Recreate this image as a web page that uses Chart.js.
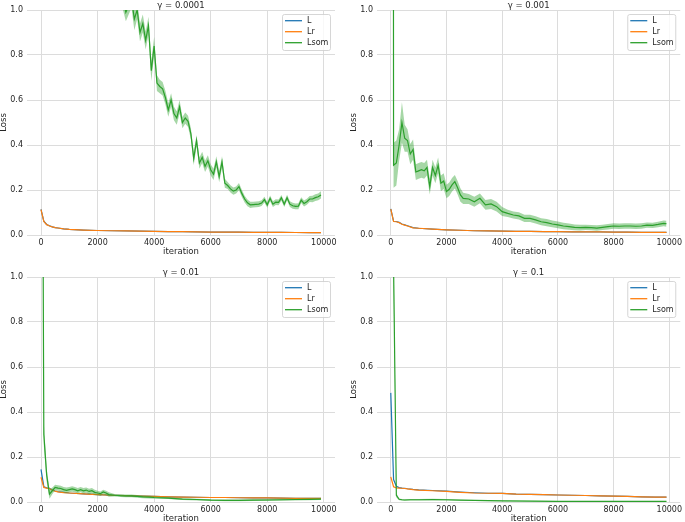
<!DOCTYPE html>
<html>
<head>
<meta charset="utf-8">
<script src="https://cdn.jsdelivr.net/npm/chart.js@4.4.0/dist/chart.umd.min.js"></script>
<style>
  html, body { margin: 0; padding: 0; background: #fff; overflow: hidden; }
  body { width: 685px; height: 522px; position: relative; }
  canvas { position: absolute; }
</style>
</head>
<body>
<canvas id="panel-a" width="342" height="260" style="left:0;top:0"></canvas>
<canvas id="panel-b" width="335" height="260" style="left:350px;top:0"></canvas>
<canvas id="panel-c" width="342" height="265" style="left:0;top:262px"></canvas>
<canvas id="panel-d" width="335" height="265" style="left:350px;top:262px"></canvas>
<script>
// Loss curves for four gamma values

const seriesNames = ['L', 'Lr', 'Lsom'];
const panelTitles = ['γ = 0.0001', 'γ = 0.001', 'γ = 0.01', 'γ = 0.1'];
const xTicks = [0, 2000, 4000, 6000, 8000, 10000];
const yTicks = [0, 0.2, 0.4, 0.6, 0.8, 1.0];

// iterations where L and Lr were sampled (shared by all panels)
const lossIters = [0, 100, 200, 300, 400, 500, 600, 800, 1000, 1500, 2000, 2500, 3000, 3500,
    4000, 4500, 5000, 5500, 6000, 6500, 7000, 7500, 8000, 8500, 9000, 9500, 9900];

// gamma = 0.0001
const lossA = [0.114, 0.061, 0.047, 0.041, 0.036, 0.033, 0.031, 0.027, 0.025, 0.022, 0.020, 0.019, 0.018, 0.017,
    0.016, 0.015, 0.015, 0.014, 0.013, 0.013, 0.013, 0.012, 0.012, 0.012, 0.011, 0.011, 0.011];
const lrA = [0.113, 0.060, 0.046, 0.040, 0.036, 0.033, 0.031, 0.027, 0.025, 0.022, 0.020, 0.019, 0.018, 0.017,
    0.016, 0.015, 0.015, 0.014, 0.013, 0.013, 0.013, 0.012, 0.012, 0.012, 0.011, 0.011, 0.011];
const lsomItersA = [0, 100, 200, 300, 400, 500, 700, 1000, 1500, 2000, 2500, 2800, 2900,
    3000, 3100, 3200, 3300, 3400, 3500, 3600, 3700, 3800, 3900,
    4000, 4100, 4200, 4300, 4400, 4500, 4600, 4700, 4800, 4900,
    5000, 5100, 5200, 5300, 5400, 5500, 5600, 5700, 5800, 5900,
    6000, 6100, 6200, 6300, 6400, 6500, 6600, 6700, 6800, 6900,
    7000, 7100, 7200, 7300, 7400, 7500, 7600, 7700, 7800, 7900,
    8000, 8100, 8200, 8300, 8400, 8500, 8600, 8700, 8800, 8900,
    9000, 9100, 9200, 9300, 9400, 9500, 9600, 9700, 9800, 9900];
const lsomA = [9.0, 7.5, 6.5, 5.8, 5.2, 4.8, 4.0, 3.2, 2.3, 1.7, 1.3, 1.12, 1.05,
    0.99, 1.02, 1.05, 0.96, 1.0, 0.90, 0.94, 0.865, 0.93, 0.73,
    0.84, 0.675, 0.66, 0.65, 0.61, 0.556, 0.60, 0.54, 0.52, 0.57,
    0.50, 0.52, 0.505, 0.45, 0.34, 0.42, 0.32, 0.345, 0.305, 0.33,
    0.29, 0.27, 0.325, 0.26, 0.325, 0.23, 0.22, 0.205, 0.195, 0.20,
    0.215, 0.185, 0.16, 0.143, 0.134, 0.135, 0.136, 0.137, 0.142, 0.157,
    0.134, 0.163, 0.137, 0.146, 0.145, 0.165, 0.137, 0.166, 0.137, 0.13,
    0.127, 0.128, 0.155, 0.14, 0.148, 0.16, 0.16, 0.166, 0.17, 0.178];
const lsomSpreadA = [0.05, 0.05, 0.05, 0.05, 0.05, 0.05, 0.05, 0.05, 0.05, 0.05, 0.05, 0.05, 0.05,
    0.04, 0.04, 0.04, 0.05, 0.04, 0.04, 0.04, 0.04, 0.04, 0.045,
    0.04, 0.035, 0.03, 0.03, 0.03, 0.03, 0.03, 0.03, 0.03, 0.03,
    0.025, 0.025, 0.025, 0.025, 0.03, 0.025, 0.025, 0.025, 0.025, 0.025,
    0.025, 0.025, 0.025, 0.025, 0.025, 0.02, 0.016, 0.016, 0.016, 0.016,
    0.016, 0.016, 0.015, 0.015, 0.014, 0.013, 0.013, 0.013, 0.013, 0.013,
    0.013, 0.013, 0.013, 0.013, 0.013, 0.013, 0.013, 0.013, 0.013, 0.013,
    0.013, 0.013, 0.013, 0.013, 0.013, 0.013, 0.014, 0.015, 0.015, 0.016];

// gamma = 0.001
const lossB = [0.116, 0.061, 0.060, 0.056, 0.049, 0.045, 0.041, 0.033, 0.030, 0.026, 0.023, 0.021, 0.019, 0.018,
    0.017, 0.016, 0.016, 0.015, 0.015, 0.014, 0.014, 0.014, 0.013, 0.013, 0.012, 0.012, 0.012];
const lrB = [0.115, 0.060, 0.059, 0.055, 0.048, 0.044, 0.040, 0.032, 0.030, 0.026, 0.023, 0.021, 0.019, 0.018,
    0.017, 0.016, 0.016, 0.015, 0.015, 0.014, 0.014, 0.014, 0.013, 0.013, 0.012, 0.012, 0.012];
const lsomItersB = [0, 100, 200, 300, 400, 500, 600, 700, 800, 900,
    1000, 1100, 1200, 1300, 1400, 1500, 1600, 1700, 1800, 1900,
    2000, 2100, 2200, 2300, 2400, 2500, 2600,
    2800, 3000, 3200, 3400, 3600, 3800, 4000, 4200, 4400, 4600, 4800,
    5000, 5200, 5400, 5600, 5800, 6000, 6200, 6400, 6600, 6800,
    7000, 7200, 7400, 7600, 7800, 8000, 8200, 8400, 8600, 8800,
    9000, 9200, 9400, 9600, 9800, 9900];
const lsomB = [20, 0.31, 0.32, 0.40, 0.50, 0.43, 0.42, 0.36, 0.38, 0.28,
    0.285, 0.29, 0.285, 0.30, 0.215, 0.30, 0.265, 0.31, 0.23, 0.24,
    0.193, 0.203, 0.223, 0.237, 0.21, 0.178, 0.163,
    0.16, 0.148, 0.163, 0.134, 0.138, 0.126, 0.104, 0.096, 0.089, 0.085, 0.074,
    0.074, 0.067, 0.059, 0.055, 0.049, 0.045, 0.040, 0.037, 0.034, 0.033,
    0.034, 0.033, 0.031, 0.034, 0.037, 0.040, 0.039, 0.040, 0.040, 0.039,
    0.040, 0.044, 0.043, 0.047, 0.052, 0.050];
const lsomSpreadB = [0.5, 0.1, 0.1, 0.07, 0.09, 0.06, 0.05, 0.045, 0.045, 0.035,
    0.035, 0.035, 0.035, 0.035, 0.035, 0.035, 0.035, 0.035, 0.035, 0.035,
    0.03, 0.03, 0.03, 0.03, 0.03, 0.03, 0.025,
    0.022, 0.022, 0.022, 0.022, 0.022, 0.022, 0.02, 0.016, 0.016, 0.016, 0.016,
    0.016, 0.016, 0.016, 0.016, 0.015, 0.015, 0.014, 0.014, 0.013, 0.013,
    0.012, 0.012, 0.012, 0.012, 0.012, 0.012, 0.012, 0.012, 0.012, 0.012,
    0.012, 0.012, 0.012, 0.012, 0.013, 0.013];

// gamma = 0.01
const lossC = [0.145, 0.068, 0.063, 0.061, 0.053, 0.049, 0.046, 0.043, 0.040, 0.036, 0.033, 0.030, 0.028, 0.026,
    0.025, 0.023, 0.022, 0.021, 0.020, 0.020, 0.019, 0.018, 0.018, 0.017, 0.016, 0.016, 0.016];
const lrC = [0.110, 0.065, 0.062, 0.060, 0.052, 0.048, 0.045, 0.042, 0.040, 0.036, 0.033, 0.030, 0.028, 0.026,
    0.025, 0.023, 0.022, 0.021, 0.020, 0.020, 0.019, 0.018, 0.018, 0.017, 0.016, 0.016, 0.016];
const lsomItersC = [0, 100, 200, 300, 400, 500, 600, 700, 800, 900,
    1000, 1100, 1200, 1300, 1400, 1500, 1600, 1700, 1800, 1900,
    2000, 2100, 2200, 2300, 2400,
    2600, 2800, 3000, 3200, 3400, 3600, 3800, 4000,
    4500, 5000, 5500, 6000, 6500, 7000, 7500, 8000, 8500, 9000, 9500, 9900];
const lsomC = [3.5, 0.30, 0.12, 0.035, 0.05, 0.065, 0.062, 0.06, 0.055, 0.052,
    0.055, 0.058, 0.055, 0.05, 0.055, 0.05, 0.053, 0.047, 0.05, 0.043,
    0.04, 0.037, 0.045, 0.04, 0.033,
    0.03, 0.028, 0.027, 0.027, 0.025, 0.023, 0.022, 0.02,
    0.017, 0.013, 0.011, 0.008, 0.007, 0.007, 0.008, 0.009, 0.01, 0.011, 0.012, 0.013];
const lsomSpreadC = [0.3, 0.05, 0.03, 0.02, 0.015, 0.012, 0.012, 0.012, 0.012, 0.012,
    0.012, 0.012, 0.012, 0.012, 0.012, 0.012, 0.012, 0.012, 0.012, 0.012,
    0.01, 0.01, 0.01, 0.01, 0.01,
    0.006, 0.006, 0.006, 0.006, 0.006, 0.006, 0.006, 0.006,
    0.004, 0.004, 0.004, 0.004, 0.004, 0.004, 0.004, 0.004, 0.004, 0.004, 0.004, 0.004];

// gamma = 0.1
const lossD = [0.485, 0.100, 0.070, 0.064, 0.062, 0.061, 0.059, 0.056, 0.054, 0.051, 0.048, 0.044, 0.041, 0.039,
    0.038, 0.035, 0.034, 0.033, 0.031, 0.030, 0.029, 0.027, 0.026, 0.025, 0.023, 0.022, 0.022];
const lrD = [0.112, 0.068, 0.063, 0.062, 0.061, 0.060, 0.058, 0.055, 0.053, 0.050, 0.047, 0.043, 0.040, 0.039,
    0.038, 0.035, 0.034, 0.033, 0.031, 0.030, 0.029, 0.027, 0.026, 0.025, 0.023, 0.022, 0.022];
const lsomItersD = [0, 100, 200, 300, 400, 500, 700, 1000, 1500, 2000, 2500, 3000,
    4000, 5000, 6000, 7000, 8000, 9000, 9900];
const lsomD = [3.7, 1.05, 0.03, 0.012, 0.01, 0.009, 0.01, 0.01, 0.011, 0.01, 0.008, 0.007,
    0.005, 0.004, 0.003, 0.003, 0.003, 0.003, 0.003];
const lsomSpreadD = [0.3, 0.1, 0.01, 0.004, 0.003, 0.003, 0.003, 0.003, 0.003, 0.003, 0.002, 0.002,
    0.002, 0.002, 0.002, 0.002, 0.002, 0.002, 0.002];

const COLORS = { L: '#1f77b4', Lr: '#ff7f0e', Lsom: '#2ca02c' };
const BAND = 'rgba(44, 160, 44, 0.42)';
const GRID = '#dcdcdc';
const TEXT = '#262626';
const FONT = '"DejaVu Sans", sans-serif';

function pairs(xs, ys) {
    return xs.map((x, i) => ({ x: x, y: ys[i] }));
}

function bandEdge(xs, ys, spread, sign) {
    return xs.map((x, i) => ({ x: x, y: ys[i] + sign * spread[i] }));
}

// draws the panel title and a matplotlib-like legend inside the plot area
const panelDecor = {
    id: 'panelDecor',
    afterDraw(chart) {
        const { ctx, chartArea: a } = chart;
        const opts = chart.options.plugins.panelDecor;
        ctx.save();

        ctx.fillStyle = TEXT;
        ctx.font = '8.5px ' + FONT;
        ctx.textAlign = 'center';
        ctx.textBaseline = 'alphabetic';
        ctx.fillText(opts.title, (a.left + a.right) / 2, a.top - 2.5);

        const w = 48, h = 36;
        const bx = a.right - 5 - w, by = a.top + 4;
        ctx.beginPath();
        ctx.roundRect(bx + 0.5, by + 0.5, w, h, 2);
        ctx.fillStyle = 'rgba(255,255,255,0.8)';
        ctx.fill();
        ctx.strokeStyle = '#cccccc';
        ctx.lineWidth = 0.8;
        ctx.stroke();

        ctx.font = '8px ' + FONT;
        ctx.textAlign = 'left';
        ctx.textBaseline = 'middle';
        seriesNames.forEach((name, i) => {
            const y = by + 6.7 + i * 11;
            ctx.beginPath();
            ctx.moveTo(bx + 3, y);
            ctx.lineTo(bx + 20, y);
            ctx.strokeStyle = COLORS[name];
            ctx.lineWidth = 1.3;
            ctx.stroke();
            ctx.fillStyle = TEXT;
            ctx.fillText(name, bx + 25, y + 0.5);
        });
        ctx.restore();
    }
};

function makePanel(canvasId, title, lossVals, lrVals, lsomIters, lsomVals, lsomSpread, padTop) {
    const ctx = document.getElementById(canvasId);
    return new Chart(ctx, {
        type: 'line',
        data: {
            datasets: [{
                label: 'L',
                data: pairs(lossIters, lossVals),
                borderColor: COLORS.L,
                borderWidth: 1.2,
                pointRadius: 0,
                fill: false,
                order: 5
            }, {
                label: 'Lr',
                data: pairs(lossIters, lrVals),
                borderColor: COLORS.Lr,
                borderWidth: 1.2,
                pointRadius: 0,
                fill: false,
                order: 4
            }, {
                label: 'Lsom upper',
                data: bandEdge(lsomIters, lsomVals, lsomSpread, 1),
                borderColor: 'rgba(0,0,0,0)',
                borderWidth: 0,
                pointRadius: 0,
                fill: false,
                order: 3
            }, {
                label: 'Lsom lower',
                data: bandEdge(lsomIters, lsomVals, lsomSpread, -1),
                borderColor: 'rgba(0,0,0,0)',
                backgroundColor: BAND,
                borderWidth: 0,
                pointRadius: 0,
                fill: '-1',
                order: 2
            }, {
                label: 'Lsom',
                data: pairs(lsomIters, lsomVals),
                borderColor: COLORS.Lsom,
                borderWidth: 1.2,
                pointRadius: 0,
                fill: false,
                order: 1
            }]
        },
        options: {
            responsive: false,
            animation: false,
            devicePixelRatio: 1,
            events: [],
            layout: { padding: { left: 0, right: canvasId === 'panel-a' || canvasId === 'panel-c' ? 7 : 0, top: padTop, bottom: 0 } },
            plugins: {
                legend: { display: false },
                tooltip: { enabled: false },
                title: { display: false },
                panelDecor: { title: title }
            },
            scales: {
                x: {
                    type: 'linear',
                    min: -495,
                    max: 10395,
                    afterBuildTicks: s => { s.ticks = xTicks.map(v => ({ value: v })); },
                    afterFit: s => { s.height = 25; },
                    grid: { color: GRID, lineWidth: 1, drawTicks: false },
                    border: { display: false },
                    ticks: {
                        padding: 3,
                        color: TEXT,
                        maxRotation: 0,
                        autoSkip: false,
                        font: { family: FONT, size: 8 },
                        callback: v => String(v)
                    },
                    title: {
                        display: true,
                        text: 'iteration',
                        color: TEXT,
                        font: { family: FONT, size: 8.5, lineHeight: 1.2 },
                        padding: { top: 0, bottom: 3 }
                    }
                },
                y: {
                    min: 0,
                    max: 1,
                    afterBuildTicks: s => { s.ticks = yTicks.map(v => ({ value: v })); },
                    afterFit: s => { s.width = 27; },
                    grid: { color: GRID, lineWidth: 1, drawTicks: false },
                    border: { display: false },
                    ticks: {
                        padding: 4,
                        color: TEXT,
                        font: { family: FONT, size: 8 },
                        callback: v => v.toFixed(1)
                    },
                    title: {
                        display: true,
                        text: 'Loss',
                        color: TEXT,
                        font: { family: FONT, size: 8.5, lineHeight: 1 },
                        padding: 0
                    }
                }
            }
        },
        plugins: [panelDecor]
    });
}

makePanel('panel-a', panelTitles[0], lossA, lrA, lsomItersA, lsomA, lsomSpreadA, 10);
makePanel('panel-b', panelTitles[1], lossB, lrB, lsomItersB, lsomB, lsomSpreadB, 10);
makePanel('panel-c', panelTitles[2], lossC, lrC, lsomItersC, lsomC, lsomSpreadC, 15);
makePanel('panel-d', panelTitles[3], lossD, lrD, lsomItersD, lsomD, lsomSpreadD, 15);
</script>
</body>
</html>
